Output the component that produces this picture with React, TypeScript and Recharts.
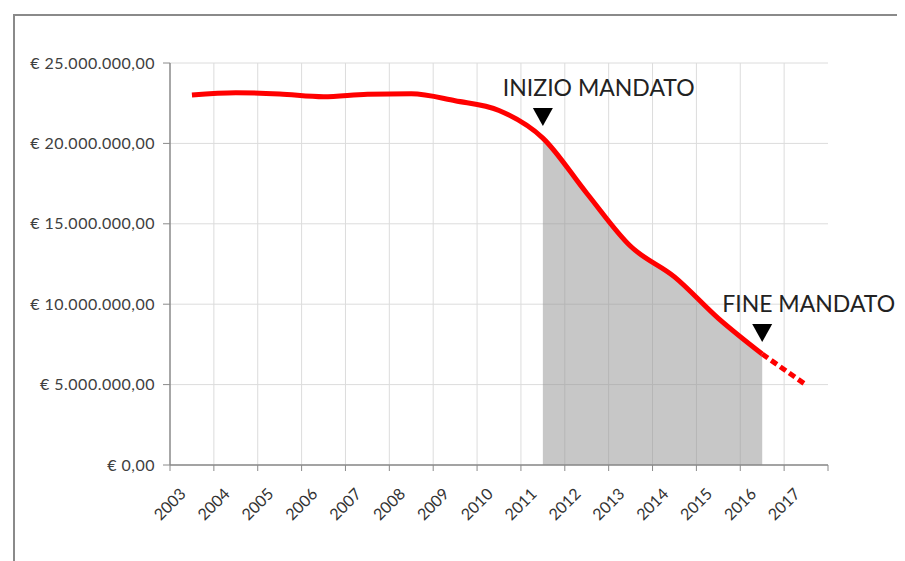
import React from 'react';
import {
  ComposedChart, Line, Area, XAxis, YAxis, CartesianGrid, ReferenceDot,
} from 'recharts';

// Anni e valori (euro)
const YEARS = [2003, 2004, 2005, 2006, 2007, 2008, 2009, 2010, 2011, 2012, 2013, 2014, 2015, 2016, 2017];
const VALUES = [
  23010000, 23150000, 23070000, 22900000, 23050000, 23080000, 22650000, 22050000,
  20330000, 16900000, 13600000, 11700000, 9120000, 6900000, 4980000,
];
const Y_TICKS = [0, 5000000, 10000000, 15000000, 20000000, 25000000];
const MANDATE_START = 2011;
const MANDATE_END = 2016;
const MARKERS = [
  { year: MANDATE_START, label: 'INIZIO MANDATO' },
  { year: MANDATE_END, label: 'FINE MANDATO' },
];

const FONT = 'Lato, "Open Sans", sans-serif';
const RED = '#ff0000';
const AXIS = '#8a8a8a';

const data = YEARS.map((year, i) => ({
  year,
  solid: year <= MANDATE_END ? VALUES[i] : null,
  dashed: year >= MANDATE_END ? VALUES[i] : null,
  shade: year >= MANDATE_START && year <= MANDATE_END ? VALUES[i] : null,
}));

// confini tra le categorie (linee griglia e tacche)
const BOUNDS = [...YEARS.map((y) => y - 0.5), YEARS[YEARS.length - 1] + 0.5];
const X_DOMAIN = [BOUNDS[0], BOUNDS[BOUNDS.length - 1]];

function euro(v: number): string {
  const int = Math.round(v).toString().replace(/\B(?=(\d{3})+(?!\d))/g, '.');
  return `€ ${int},00`;
}

// etichetta ruotata + tacche sui confini della categoria
function YearTick({ x, y, width, index, visibleTicksCount, payload }: any) {
  const half = width / YEARS.length / 2;
  const tx = x - 5;
  const ty = y + 30;
  const last = index === visibleTicksCount - 1;
  return (
    <g>
      <line x1={x - half} x2={x - half} y1={y} y2={y + 6} stroke={AXIS} />
      {last && <line x1={x + half} x2={x + half} y1={y} y2={y + 6} stroke={AXIS} />}
      <text
        x={tx} y={ty}
        transform={`rotate(-45 ${tx} ${ty})`}
        textAnchor="end"
        fontFamily={FONT}
        fontSize={16}
        fill="#333"
      >
        {payload.value}
      </text>
    </g>
  );
}

function Marker({ cx, cy, label }: any) {
  const tip = cy - 12;
  return (
    <g>
      <polygon points={`${cx - 10},${tip - 18} ${cx + 10},${tip - 18} ${cx},${tip}`} fill="#000" />
      <text x={cx - 40} y={cy - 42} fontFamily={FONT} fontSize={23} fill="#222">{label}</text>
    </g>
  );
}

// linee verticali della griglia sui confini interni tra gli anni
function gridX({ offset }: any) {
  const [d0, d1] = X_DOMAIN;
  return BOUNDS.slice(1, -1).map((b) => offset.left + ((b - d0) / (d1 - d0)) * offset.width);
}

export default function App() {
  return (
    <div style={{ position: 'relative', width: 897, height: 553, overflow: 'hidden' }}>
      <div
        style={{
          position: 'absolute', left: 5, top: 6, width: 900, height: 560,
          borderLeft: '2px solid #8a8a8a', borderTop: '2px solid #8a8a8a',
        }}
      />
      <div style={{ position: 'absolute', left: 0, top: 0 }}>
        <ComposedChart
          width={897}
          height={545}
          data={data}
          margin={{ top: 55, right: 77, bottom: 28, left: 0 }}
        >
          <CartesianGrid
            stroke="#dcdcdc"
            strokeWidth={1}
            verticalCoordinatesGenerator={gridX}
          />
          <XAxis
            dataKey="year"
            type="number"
            domain={X_DOMAIN}
            ticks={YEARS}
            interval={0}
            tickLine={false}
            tickSize={0}
            tickMargin={0}
            axisLine={{ stroke: AXIS, strokeWidth: 1.5 }}
            tick={<YearTick />}
            height={60}
            allowDataOverflow
          />
          <YAxis
            type="number"
            domain={[0, 25000000]}
            ticks={Y_TICKS}
            width={162}
            tickFormatter={euro}
            tick={{ fontFamily: FONT, fontSize: 16, fill: '#404040', letterSpacing: 0.5 }}
            tickLine={{ stroke: AXIS }}
            tickSize={7}
            tickMargin={8}
            axisLine={{ stroke: AXIS, strokeWidth: 1.5 }}
          />
          <Area
            dataKey="shade"
            type="monotone"
            stroke="none"
            fill="#909090"
            fillOpacity={0.5}
            isAnimationActive={false}
            connectNulls={false}
            dot={false}
            activeDot={false}
          />
          <Line
            dataKey="solid"
            type="monotone"
            stroke={RED}
            strokeWidth={5}
            dot={false}
            activeDot={false}
            isAnimationActive={false}
          />
          <Line
            dataKey="dashed"
            type="linear"
            stroke={RED}
            strokeWidth={5}
            strokeDasharray="7 4"
            dot={false}
            activeDot={false}
            isAnimationActive={false}
          />
          {MARKERS.map((m) => (
            <ReferenceDot
              key={m.label}
              x={m.year}
              y={VALUES[YEARS.indexOf(m.year)]}
              shape={(p: any) => <Marker {...p} label={m.label} />}
            />
          ))}
        </ComposedChart>
      </div>
    </div>
  );
}
